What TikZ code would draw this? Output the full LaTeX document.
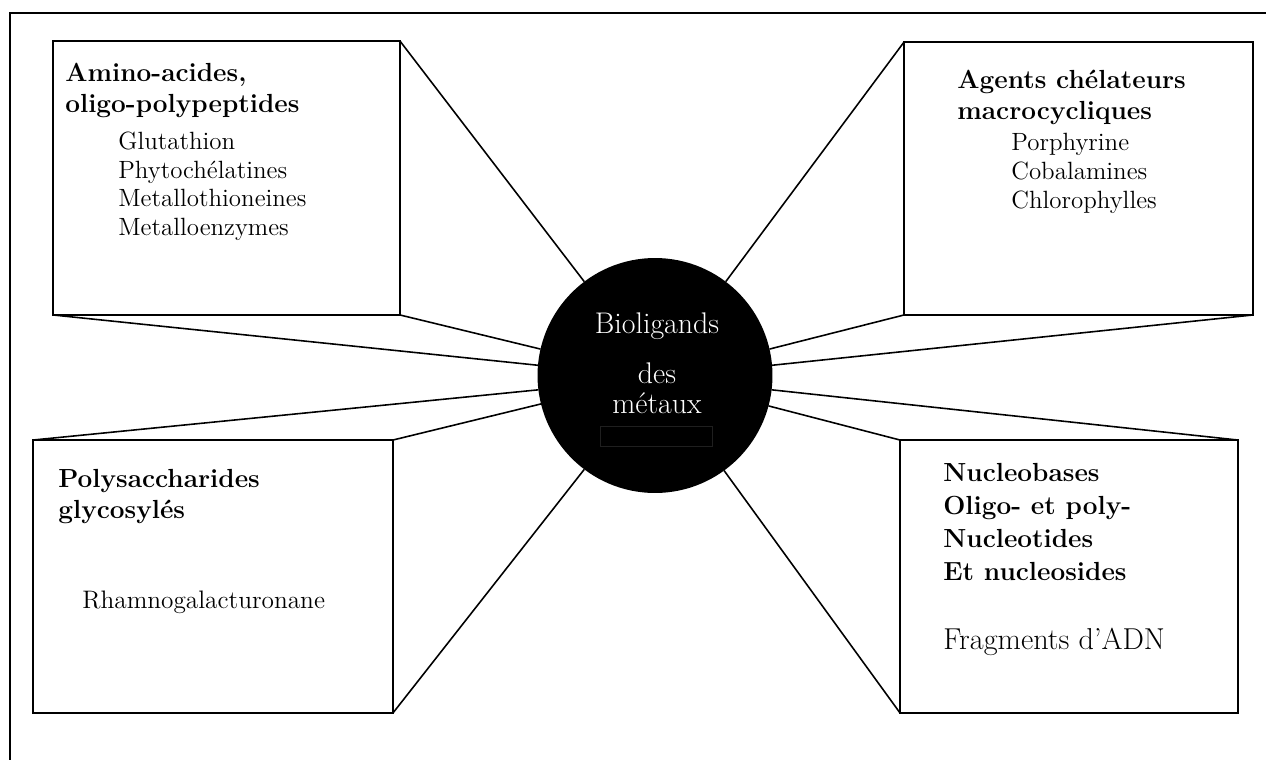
\documentclass[tikz,border=0pt]{standalone}
\usepackage{xcolor}
\usepackage{tikz}
\usetikzlibrary{calc}
\usetikzlibrary{positioning}
\tikzset{>=latex}
\tikzstyle{box} = [draw = black, line width = 0.9pt, inner sep = 0, outer sep = 0]
\tikzstyle{head} = [draw = none, inner sep = 0, anchor = north west, align = left, font = \fontsize{14.9}{17.6}\selectfont\bfseries]
\tikzstyle{item} = [draw = none, inner sep = 0, anchor = north west, align = left, font = \fontsize{14.2}{16.4}\selectfont]
\tikzstyle{spoke} = [-, draw = black, line width = 0.9pt]

\begin{document}
\begin{tikzpicture}[x = 0.02cm, y = -0.02cm]
\useasboundingbox (0, 0) rectangle (1266, 760);
\draw [line width = 1.4pt] (1266, 13) -- (10, 13) -- (10, 760);
% centre
\node [circle, fill = black, draw = none, minimum size = 4.7cm, inner sep = 0, outer sep = 0] (C) at (655, 375.5) {};
\node [draw = none, inner sep = 0, anchor = north, align = center, text = white, font = \fontsize{17}{17}\selectfont] (Ct) at (657, 312.8) {Bioligands\\[11.4pt]des\\m\'etaux};
\draw [draw = black!88!white, line width = 0.4pt] (600, 426) rectangle (712, 446);
% boxes
\node [box, minimum width = 6.94cm, minimum height = 5.48cm] (B1) at (226.5, 178) {};
\node [box, minimum width = 6.98cm, minimum height = 5.46cm] (B2) at (1078.5, 178.5) {};
\node [box, minimum width = 7.2cm, minimum height = 5.46cm] (B3) at (213, 576.5) {};
\node [box, minimum width = 6.76cm, minimum height = 5.46cm] (B4) at (1069, 576.5) {};
% texts
\node [head] (H1) at (65, 62.7) {Amino-acides,\\oligo-polypeptides};
\node [item] (I1) at (118, 131.3) {Glutathion\\Phytoch\'elatines\\Metallothioneines\\Metalloenzymes};
\node [head] (H2) at (957, 69.7) {Agents ch\'elateurs\\macrocycliques};
\node [item] (I2) at (1011, 133.3) {Porphyrine\\Cobalamines\\Chlorophylles};
\node [head] (H3) at (58, 468.7) {Polysaccharides\\glycosyl\'es};
\node [item, font = \fontsize{14.4}{17}\selectfont] (I3) at (82, 591) {Rhamnogalacturonane};
\node [head, font = \fontsize{14.9}{18.8}\selectfont\bfseries] (H4) at (943, 462.7) {Nucleobases\\Oligo- et poly-\\Nucleotides\\Et nucleosides};
\node [item, font = \fontsize{17.2}{18}\selectfont] (I4) at (943, 627.8) {Fragments d'ADN};
% spokes
\draw [spoke] (B1.north east) to (C.127);
\draw [spoke] (B1.south east) to (C.167.7);
\draw [spoke] (B1.south west) to (C.175);
\draw [spoke] (B2.north west) to (C.53.5);
\draw [spoke] (B2.south west) to (C.13);
\draw [spoke] (B2.south east) to (C.5);
\draw [spoke] (B3.north west) to (C.187);
\draw [spoke] (B3.north east) to (C.194.4);
\draw [spoke] (B3.south east) to (C.233);
\draw [spoke] (B4.north east) to (C.353);
\draw [spoke] (B4.north west) to (C.345);
\draw [spoke] (B4.south west) to (C.306.5);
\end{tikzpicture}
\end{document}
